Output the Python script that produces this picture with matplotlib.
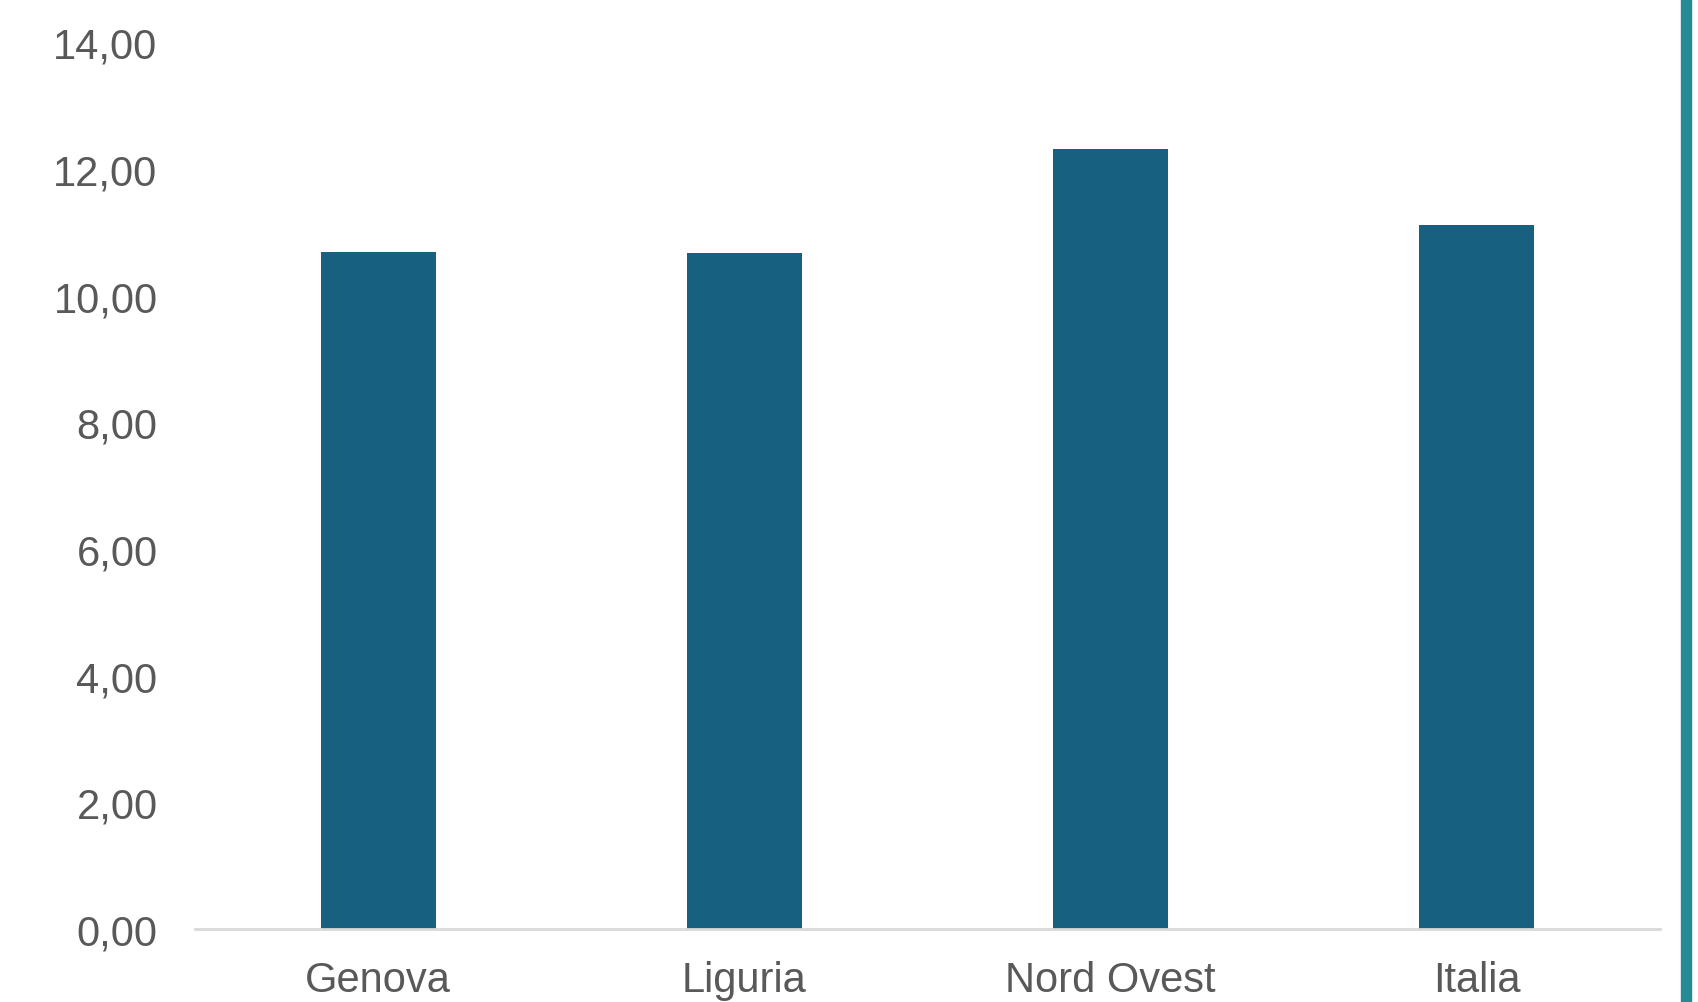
import numpy as np
import matplotlib.pyplot as plt
from matplotlib.patches import Rectangle
from matplotlib.ticker import FuncFormatter

categorie = ['Genova', 'Liguria', 'Nord Ovest', 'Italia']
valori = [10.69, 10.67, 12.31, 11.12]
yticks = [0, 2, 4, 6, 8, 10, 12, 14]

plt.rcParams['font.family'] = ['Liberation Sans', 'DejaVu Sans']

fig = plt.figure(figsize=(16.99, 10.03), dpi=100)
ax = fig.add_axes([0.1148, 0.0728, 0.977 - 0.1148, 0.957 - 0.0728])

x = np.arange(len(categorie))
ax.bar(x, valori, width=0.314, color='#17607f', zorder=2)

ax.set_xlim(-0.5, 3.5)
ax.set_ylim(0, 14)
ax.set_yticks(yticks)
ax.yaxis.set_major_formatter(FuncFormatter(lambda v, p: f'{v:.2f}'.replace('.', ',')))
ax.set_xticks(x)
ax.set_xticklabels(categorie)
ax.tick_params(axis='both', length=0, labelsize=30, colors='#595959')
ax.tick_params(axis='x', pad=22)
ax.tick_params(axis='y', pad=27)

for s in ['top', 'right', 'left']:
    ax.spines[s].set_visible(False)
ax.spines['bottom'].set_color('#d9d9d9')
ax.spines['bottom'].set_linewidth(2)

# barra verticale a destra
fig.patches.append(Rectangle((1681 / 1699, 0), 10 / 1699, 1, transform=fig.transFigure,
                             color='#258a96', zorder=5))

fig.savefig('out.png', dpi=100)
